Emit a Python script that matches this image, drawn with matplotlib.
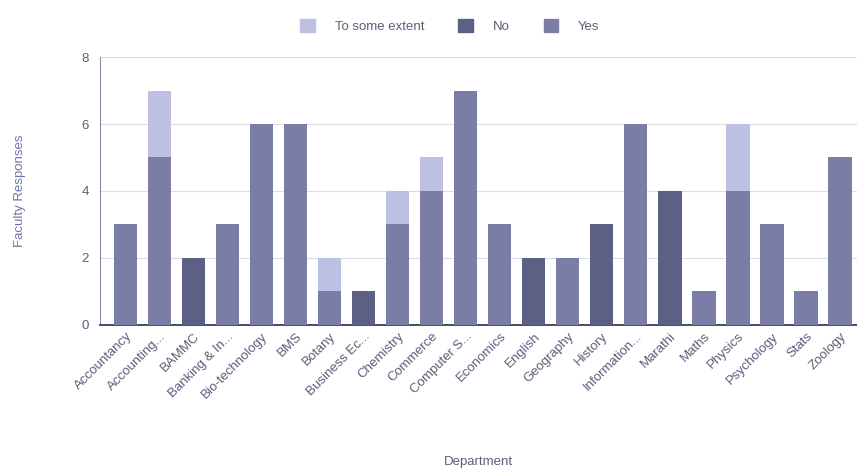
import matplotlib.pyplot as plt
import numpy as np

departments = ["Accountancy", "Accounting...", "BAMMC", "Banking & In...", "Bio-technology",
               "BMS", "Botany", "Business Ec...", "Chemistry", "Commerce", "Computer S...",
               "Economics", "English", "Geography", "History", "Information...", "Marathi",
               "Maths", "Physics", "Psychology", "Stats", "Zoology"]
yes_counts = [3, 5, 0, 3, 6, 6, 1, 0, 3, 4, 7, 3, 0, 2, 0, 6, 0, 1, 4, 3, 1, 5]
no_counts = [0, 0, 2, 0, 0, 0, 0, 1, 0, 0, 0, 0, 2, 0, 3, 0, 4, 0, 0, 0, 0, 0]
extent_counts = [0, 2, 0, 0, 0, 0, 1, 0, 1, 1, 0, 0, 0, 0, 0, 0, 0, 0, 2, 0, 0, 0]
y_ticks = [0, 2, 4, 6, 8]

plt.rcParams['font.family'] = ['Liberation Sans', 'DejaVu Sans']
text_color = '#5a5e7a'

fig = plt.figure(figsize=(8.57, 4.72), dpi=100)
ax = fig.add_axes([0.117, 0.312, 0.883, 0.567])

x = np.arange(len(departments))
yes = np.array(yes_counts)
no = np.array(no_counts)
extent = np.array(extent_counts)
w = 0.68

c_yes = '#7a7da6'
c_no = '#5d6085'
c_ext = '#bcc0e2'

ax.bar(x, yes, w, color=c_yes, zorder=3, label='Yes')
ax.bar(x, no, w, bottom=yes, color=c_no, zorder=3, label='No')
ax.bar(x, extent, w, bottom=yes + no, color=c_ext, zorder=3, label='To some extent')

ax.set_ylim(0, 8)
ax.set_xlim(-0.75, len(departments) - 0.5)
ax.set_yticks(y_ticks)
ax.yaxis.grid(True, color='#dcdce6', linewidth=0.8, zorder=0)
ax.set_axisbelow(True)

for s in ['top', 'right']:
    ax.spines[s].set_visible(False)
ax.spines['left'].set_color('#8a8daa')
ax.spines['bottom'].set_color('#4a4d6a')
ax.spines['bottom'].set_linewidth(1.4)

ax.set_xticks(x)
ax.set_xticklabels(departments, rotation=45, ha='right', rotation_mode='anchor',
                   fontsize=9.5, color=text_color)
ax.tick_params(axis='x', length=0, pad=4)
ax.tick_params(axis='y', length=0, labelsize=9.5, labelcolor=text_color, pad=8)

ax.set_ylabel('Faculty Responses', fontsize=9.5, color='#6f74a8')
ax.yaxis.set_label_coords(-0.098, 0.5)
ax.set_xlabel('Department', fontsize=9.5, color=text_color)
ax.xaxis.set_label_coords(0.5, -0.49)

handles = [plt.Rectangle((0, 0), 1, 1, color=c) for c in (c_ext, c_no, c_yes)]
fig.legend(handles, ['To some extent', 'No', 'Yes'], loc='upper center',
           bbox_to_anchor=(0.525, 0.985), ncol=3, frameon=False, fontsize=9.5,
           labelcolor=text_color, handlelength=1.1, handleheight=1.1,
           columnspacing=2.6, handletextpad=1.5)

fig.savefig('out.png', dpi=100)
